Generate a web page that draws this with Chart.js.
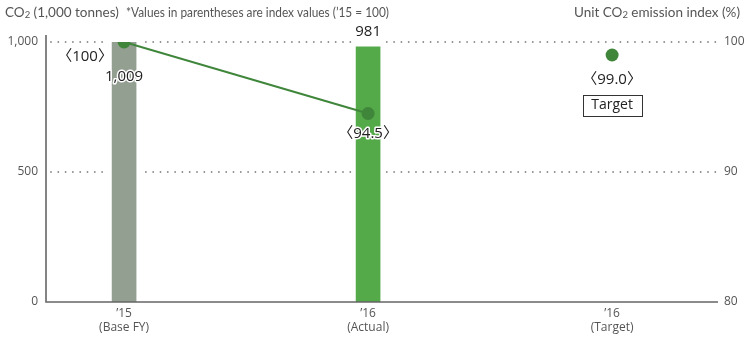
<!DOCTYPE html>
<html>
<head>
<meta charset="utf-8">
<script src="https://cdn.jsdelivr.net/npm/chart.js@4.4.1/dist/chart.umd.min.js"></script>
<style>
  html, body { margin: 0; padding: 0; background: #fff; }
  #wrap { width: 745px; height: 342px; position: relative; }
</style>
</head>
<body>
<div id="wrap"><canvas id="chart"></canvas></div>
<script>
// Fiscal-year categories (two-line tick labels)
const categories = [["\u201915", "(Base FY)"], ["\u201916", "(Actual)"], ["\u201916", "(Target)"]];
// CO2 emissions, 1,000 tonnes (no bar for the target year)
const co2Values = [1009, 981];
const co2Labels = ["1,009", "981"];
// Unit CO2 emission index ('15 = 100)
const indexActual = [100, 94.5];
const indexTarget = [99.0];
const indexTargetCategory = 2;
// Axis ticks
const leftTicks = [0, 500, 1000];
const rightTicks = [80, 90, 100];

const FONT = "'Open Sans', 'Noto Sans CJK JP', 'DejaVu Sans', sans-serif";
const HEAD_FONT = "Lato, 'Open Sans', sans-serif";
const TEXT_GREY = '#555';
const LINE_GREEN = '#3f863b';
const barColors = ['#939f90', '#54a948'];

const fmtThousands = v => v.toLocaleString('en-US');
const fmtIndex = v => (v === 100 ? '100' : v.toFixed(1));
const bracket = s => '\u3008' + s + '\u3009';

// Label offsets for the index points (dx, dy from the point)
const indexLabelOffsets = [[-39, 15], [0, 20]];
const targetLabelOffset = [0, 25];
const targetBoxOffset = 50;

function haloText(ctx, text, x, y) {
  ctx.save();
  ctx.lineJoin = 'round';
  ctx.strokeStyle = '#fff';
  ctx.lineWidth = 3;
  ctx.strokeText(text, x, y);
  ctx.fillText(text, x, y);
  ctx.restore();
}

const decor = {
  id: 'decor',
  beforeDatasetsDraw(chart) {
    const { ctx, chartArea: a, scales } = chart;
    const y = scales.y;
    ctx.save();
    // dotted grid lines at 500 and 1,000
    ctx.fillStyle = '#8a8a8a';
    leftTicks.filter(t => t > 0).forEach(t => {
      const py = Math.round(y.getPixelForValue(t));
      for (let px = a.left + 5; px < a.right - 1; px += 7.3) {
        ctx.beginPath();
        ctx.arc(px, py, 0.9, 0, Math.PI * 2);
        ctx.fill();
      }
    });
    // white gaps around the bars
    const meta = chart.getDatasetMeta(0);
    ctx.fillStyle = '#fff';
    meta.data.forEach(b => {
      ctx.fillRect(b.x - b.width / 2 - 4, a.top - 4, b.width + 8, a.bottom - a.top);
    });
    ctx.restore();
  },
  afterDraw(chart) {
    const { ctx, chartArea: a, scales } = chart;
    const x = scales.x, y = scales.y, y1 = scales.y1;
    ctx.save();
    // axis lines
    ctx.strokeStyle = '#666';
    ctx.lineWidth = 1.6;
    ctx.beginPath();
    ctx.moveTo(a.left, a.top - 7);
    ctx.lineTo(a.left, a.bottom);
    ctx.lineTo(a.right, a.bottom);
    ctx.stroke();

    // header texts
    ctx.fillStyle = TEXT_GREY;
    ctx.textBaseline = 'alphabetic';
    ctx.textAlign = 'left';
    const big = '13.5px ' + HEAD_FONT, small = '9.5px ' + HEAD_FONT;
    let tx = 5;
    const ty = 17;
    ctx.font = big; ctx.fillText('CO', tx, ty); tx += ctx.measureText('CO').width;
    ctx.font = small; ctx.fillText('2', tx, ty + 1); tx += ctx.measureText('2').width;
    ctx.font = big;
    const h1 = ' (1,000 tonnes)';
    ctx.fillText(h1, tx, ty); tx += ctx.measureText(h1).width;
    ctx.fillText('*Values in parentheses are index values (\u201915 = 100)', 126, ty, 263);

    const r1 = 'Unit CO', r2 = '2', r3 = ' emission index (%)';
    ctx.font = big; const w1 = ctx.measureText(r1).width, w3 = ctx.measureText(r3).width;
    ctx.font = small; const w2 = ctx.measureText(r2).width;
    let rx = 740 - (w1 + w2 + w3);
    ctx.font = big; ctx.fillText(r1, rx, ty); rx += w1;
    ctx.font = small; ctx.fillText(r2, rx, ty + 1); rx += w2;
    ctx.font = big; ctx.fillText(r3, rx, ty);

    // value labels
    ctx.fillStyle = '#222';
    ctx.textAlign = 'center';
    ctx.textBaseline = 'middle';
    ctx.font = '15px ' + FONT;
    // CO2 values
    const p0 = y1.getPixelForValue(indexActual[0]);
    haloText(ctx, co2Labels[0], x.getPixelForValue(0), p0 + 35);
    haloText(ctx, co2Labels[1], x.getPixelForValue(1), y.getPixelForValue(co2Values[1]) - 15);
    // index values
    indexActual.forEach((v, i) => {
      const [dx, dy] = indexLabelOffsets[i];
      haloText(ctx, bracket(fmtIndex(v)), x.getPixelForValue(i) + dx, y1.getPixelForValue(v) + dy);
    });
    const tX = x.getPixelForValue(indexTargetCategory);
    const tY = y1.getPixelForValue(indexTarget[0]);
    haloText(ctx, bracket(fmtIndex(indexTarget[0])), tX, tY + targetLabelOffset[1]);
    // "Target" box
    ctx.font = '14px ' + FONT;
    ctx.strokeStyle = '#333';
    ctx.lineWidth = 1;
    ctx.strokeRect(Math.round(tX - 29.5) + 0.5, Math.round(tY + targetBoxOffset - 10.5) + 0.5, 59, 21);
    ctx.fillText('Target', tX, tY + targetBoxOffset);
    ctx.restore();
  }
};

new Chart(document.getElementById('chart'), {
  type: 'bar',
  data: {
    datasets: [
      {
        type: 'bar',
        data: co2Values.map((v, i) => ({ x: i, y: v })),
        backgroundColor: barColors,
        barThickness: 24,
        yAxisID: 'y',
        order: 2
      },
      {
        type: 'line',
        data: indexActual.map((v, i) => ({ x: i, y: v })),
        borderColor: LINE_GREEN,
        borderWidth: 2,
        backgroundColor: LINE_GREEN,
        pointBackgroundColor: LINE_GREEN,
        pointBorderWidth: 0,
        pointRadius: 6.5,
        yAxisID: 'y1',
        order: 1
      },
      {
        type: 'line',
        data: indexTarget.map(v => ({ x: indexTargetCategory, y: v })),
        showLine: false,
        pointBackgroundColor: LINE_GREEN,
        pointBorderWidth: 0,
        pointRadius: 6.5,
        yAxisID: 'y1',
        order: 0
      }
    ]
  },
  options: {
    responsive: true,
    maintainAspectRatio: false,
    animation: false,
    layout: { padding: { top: 42, left: 0, right: 0, bottom: 0 } },
    plugins: { legend: { display: false }, tooltip: { enabled: false } },
    scales: {
      x: {
        type: 'linear',
        offset: false,
        min: -0.32,
        max: 2.434,
        afterBuildTicks: s => { s.ticks = categories.map((c, i) => ({ value: i })); },
        afterFit: s => { s.height = 40; },
        grid: { display: false, drawTicks: false, offset: false },
        border: { display: false },
        ticks: {
          autoSkip: false,
          maxRotation: 0,
          padding: 4,
          color: TEXT_GREY,
          font: { family: FONT, size: 12, lineHeight: 1.2 },
          callback: v => categories[v]
        }
      },
      y: {
        position: 'left',
        min: 0,
        max: 1000,
        afterBuildTicks: s => { s.ticks = leftTicks.map(v => ({ value: v })); },
        afterFit: s => { s.width = 46; },
        grid: { display: false, drawTicks: false },
        border: { display: false },
        ticks: {
          padding: 8,
          color: TEXT_GREY,
          font: { family: FONT, size: 12 },
          callback: v => fmtThousands(v)
        }
      },
      y1: {
        position: 'right',
        min: 80,
        max: 100,
        afterBuildTicks: s => { s.ticks = rightTicks.map(v => ({ value: v })); },
        afterFit: s => { s.width = 27; },
        grid: { display: false, drawTicks: false },
        border: { display: false },
        ticks: {
          padding: 6,
          color: TEXT_GREY,
          font: { family: FONT, size: 12 }
        }
      }
    }
  },
  plugins: [decor]
});
</script>
</body>
</html>
